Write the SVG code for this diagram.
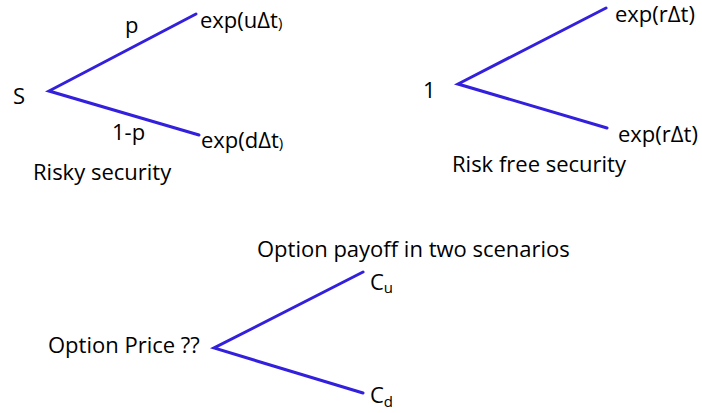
<svg xmlns="http://www.w3.org/2000/svg" width="702" height="413" viewBox="0 0 702 413">
<style>
text{font-family:"Open Sans","Liberation Sans",sans-serif;font-size:22px;fill:#000}
.br{stroke:#3320dc;stroke-width:3;fill:none;stroke-linecap:round}
.sm{font-size:15px}
.sub{font-size:15px}
</style>
<rect width="702" height="413" fill="#fff"/>
<g id="connectors">
<polyline class="br" points="196,14 49,91 199,135"/>
<polyline class="br" points="606,8 458,84 607,128"/>
<polyline class="br" points="363,272 214,348 363,393"/>
</g>
<g id="risky">
<text x="13" y="104">S</text>
<text x="125" y="33">p</text>
<text x="112" y="140">1-p</text>
<text x="200" y="28">exp(uΔt<tspan class="sm">)</tspan></text>
<text x="201" y="148">exp(dΔt<tspan class="sm">)</tspan></text>
<text x="33" y="180">Risky security</text>
</g>
<g id="riskfree">
<text x="423" y="98">1</text>
<text x="615" y="22">exp(rΔt)</text>
<text x="618" y="142">exp(rΔt)</text>
<text x="452" y="172">Risk free security</text>
</g>
<g id="option">
<text x="48" y="353">Option Price ??</text>
<text x="257" y="257">Option payoff in two scenarios</text>
<text x="370" y="290">C<tspan class="sub" dy="3">u</tspan></text>
<text x="370" y="403">C<tspan class="sub" dy="4">d</tspan></text>
</g>
</svg>
